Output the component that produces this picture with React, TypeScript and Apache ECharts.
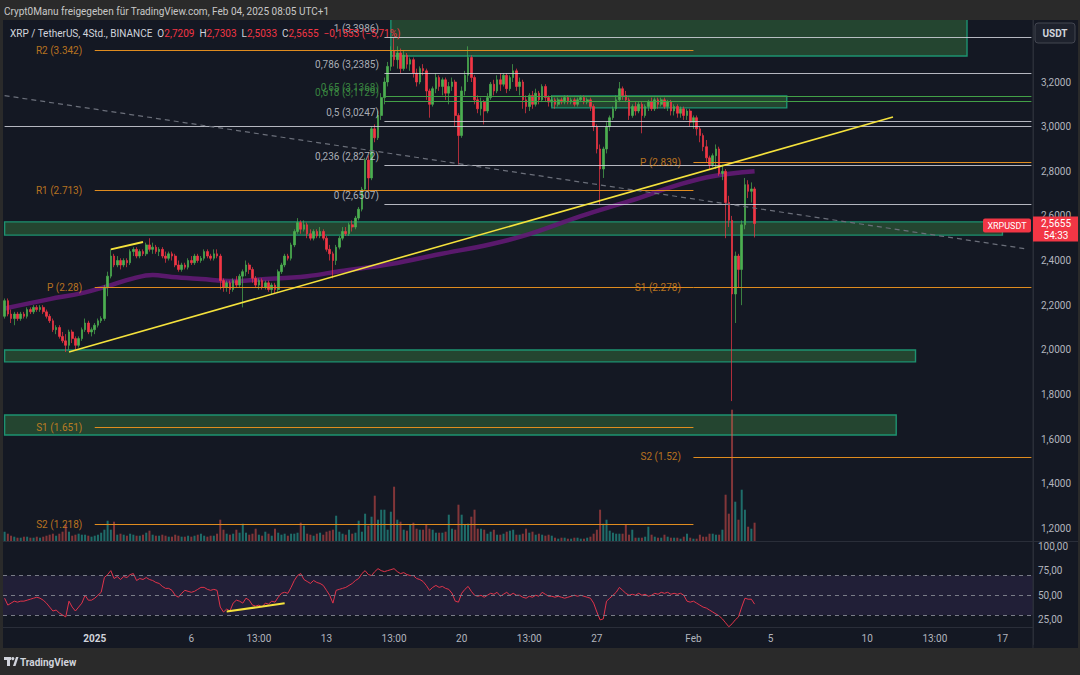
import React, { useEffect, useRef } from 'react';
import * as echarts from 'echarts';

// [open, close, low, high] per 4h candle (XRP/USDT)
const candles: number[][] = [
  [2.15,2.22,2.14,2.23],[2.22,2.16,2.15,2.23],[2.16,2.14,2.12,2.18],[2.14,2.16,2.11,2.17],[2.16,2.14,2.13,2.17],
  [2.14,2.16,2.13,2.17],[2.16,2.15,2.14,2.17],[2.15,2.18,2.14,2.19],[2.18,2.17,2.16,2.19],[2.17,2.19,2.16,2.20],
  [2.19,2.18,2.17,2.20],[2.18,2.19,2.17,2.20],[2.19,2.17,2.16,2.20],[2.17,2.15,2.14,2.18],[2.15,2.13,2.12,2.16],
  [2.13,2.09,2.08,2.14],[2.09,2.10,2.07,2.11],[2.10,2.06,2.05,2.11],[2.06,2.04,2.03,2.08],[2.04,2.02,1.99,2.07],
  [2.02,2.08,2.00,2.09],[2.08,2.05,2.03,2.09],[2.05,2.02,2.00,2.06],[2.02,2.05,2.01,2.06],[2.05,2.09,2.04,2.10],
  [2.09,2.12,2.08,2.14],[2.12,2.08,2.07,2.13],[2.08,2.09,2.06,2.10],[2.09,2.11,2.07,2.12],[2.11,2.13,2.10,2.14],
  [2.13,2.14,2.12,2.15],[2.14,2.28,2.13,2.29],[2.28,2.33,2.24,2.35],[2.33,2.42,2.32,2.45],[2.42,2.38,2.37,2.43],
  [2.38,2.40,2.37,2.42],[2.40,2.38,2.36,2.41],[2.38,2.40,2.37,2.41],[2.40,2.39,2.37,2.41],[2.39,2.44,2.38,2.45],
  [2.44,2.45,2.42,2.46],[2.45,2.42,2.41,2.46],[2.42,2.44,2.41,2.45],[2.44,2.43,2.42,2.45],[2.43,2.47,2.42,2.48],
  [2.47,2.45,2.44,2.50],[2.45,2.46,2.43,2.48],[2.46,2.44,2.43,2.47],[2.44,2.45,2.42,2.46],[2.45,2.42,2.41,2.46],
  [2.42,2.41,2.39,2.44],[2.41,2.43,2.40,2.44],[2.43,2.42,2.40,2.44],[2.42,2.38,2.37,2.43],[2.38,2.36,2.35,2.40],
  [2.36,2.38,2.35,2.39],[2.38,2.37,2.36,2.39],[2.37,2.40,2.36,2.41],[2.40,2.39,2.38,2.42],[2.39,2.42,2.38,2.43],
  [2.42,2.40,2.39,2.43],[2.40,2.41,2.39,2.42],[2.41,2.44,2.40,2.45],[2.44,2.42,2.41,2.45],[2.42,2.41,2.40,2.43],
  [2.41,2.43,2.40,2.45],[2.43,2.42,2.41,2.45],[2.42,2.31,2.27,2.43],[2.31,2.28,2.26,2.32],[2.28,2.30,2.26,2.31],
  [2.30,2.27,2.25,2.31],[2.27,2.31,2.26,2.32],[2.31,2.29,2.28,2.33],[2.29,2.33,2.28,2.34],[2.33,2.35,2.19,2.36],
  [2.35,2.38,2.33,2.40],[2.38,2.36,2.34,2.39],[2.36,2.32,2.30,2.37],[2.32,2.29,2.28,2.33],[2.29,2.31,2.27,2.32],
  [2.31,2.28,2.27,2.32],[2.28,2.30,2.27,2.31],[2.30,2.27,2.26,2.31],[2.27,2.29,2.25,2.30],[2.29,2.27,2.25,2.30],
  [2.27,2.35,2.26,2.36],[2.35,2.38,2.34,2.39],[2.38,2.42,2.37,2.43],[2.42,2.41,2.40,2.43],[2.41,2.47,2.40,2.48],
  [2.47,2.53,2.46,2.54],[2.53,2.57,2.52,2.59],[2.57,2.54,2.52,2.58],[2.54,2.56,2.53,2.58],[2.56,2.52,2.50,2.57],
  [2.52,2.50,2.49,2.54],[2.50,2.53,2.49,2.54],[2.53,2.51,2.50,2.54],[2.51,2.53,2.50,2.55],[2.53,2.50,2.49,2.54],
  [2.50,2.45,2.44,2.51],[2.45,2.43,2.40,2.47],[2.43,2.40,2.32,2.44],[2.40,2.46,2.38,2.47],[2.46,2.50,2.45,2.51],
  [2.50,2.53,2.49,2.55],[2.53,2.52,2.51,2.55],[2.52,2.56,2.51,2.57],[2.56,2.55,2.53,2.58],[2.55,2.59,2.54,2.60],
  [2.59,2.63,2.58,2.64],[2.63,2.72,2.62,2.73],[2.72,2.85,2.71,2.86],[2.85,2.77,2.71,2.87],[2.77,2.99,2.76,3.00],
  [2.99,2.95,2.93,3.01],[2.95,3.05,2.94,3.07],[3.05,3.13,3.03,3.15],[3.13,3.20,3.10,3.22],[3.20,3.27,3.18,3.29],
  [3.27,3.34,3.25,3.36],[3.34,3.30,3.27,3.40],[3.30,3.33,3.26,3.36],[3.33,3.26,3.24,3.35],[3.26,3.32,3.25,3.34],
  [3.32,3.28,3.26,3.33],[3.28,3.30,3.25,3.31],[3.30,3.24,3.22,3.31],[3.24,3.20,3.18,3.26],[3.20,3.26,3.19,3.27],
  [3.26,3.25,3.23,3.28],[3.25,3.16,3.12,3.26],[3.16,3.10,3.04,3.17],[3.10,3.17,3.09,3.18],[3.17,3.22,3.15,3.24],
  [3.22,3.18,3.16,3.23],[3.18,3.21,3.14,3.22],[3.21,3.15,3.12,3.22],[3.15,3.18,3.10,3.20],[3.18,3.20,3.16,3.22],
  [3.20,3.05,3.00,3.21],[3.05,2.96,2.83,3.06],[2.96,3.16,2.95,3.18],[3.16,3.23,3.14,3.25],[3.23,3.31,3.20,3.36],
  [3.31,3.22,3.20,3.32],[3.22,3.12,3.10,3.23],[3.12,3.08,3.06,3.14],[3.08,3.11,3.05,3.13],[3.11,3.07,3.01,3.12],
  [3.07,3.13,3.06,3.15],[3.13,3.19,3.12,3.20],[3.19,3.16,3.14,3.21],[3.16,3.21,3.15,3.23],[3.21,3.19,3.16,3.24],
  [3.19,3.23,3.18,3.24],[3.23,3.17,3.15,3.24],[3.17,3.22,3.16,3.23],[3.22,3.25,3.20,3.28],[3.25,3.18,3.16,3.26],
  [3.18,3.20,3.14,3.22],[3.20,3.12,3.08,3.21],[3.12,3.09,3.06,3.14],[3.09,3.14,3.07,3.15],[3.14,3.10,3.08,3.16],
  [3.10,3.15,3.09,3.17],[3.15,3.12,3.10,3.16],[3.12,3.18,3.11,3.19],[3.18,3.13,3.11,3.19],[3.13,3.11,3.09,3.14],
  [3.11,3.12,3.09,3.14],[3.12,3.10,3.08,3.13],[3.10,3.12,3.09,3.13],[3.12,3.11,3.10,3.13],[3.11,3.13,3.10,3.14],
  [3.13,3.11,3.10,3.14],[3.11,3.12,3.10,3.13],[3.12,3.10,3.09,3.13],[3.10,3.12,3.09,3.13],[3.12,3.13,3.11,3.14],
  [3.13,3.11,3.10,3.14],[3.11,3.12,3.10,3.13],[3.12,3.09,3.07,3.13],[3.09,3.00,2.98,3.10],[3.00,2.90,2.88,3.01],
  [2.90,2.81,2.65,2.92],[2.81,2.90,2.77,2.91],[2.90,3.00,2.88,3.02],[3.00,3.04,2.98,3.05],[3.04,3.08,3.03,3.09],
  [3.08,3.12,3.07,3.14],[3.12,3.17,3.11,3.20],[3.17,3.14,3.12,3.18],[3.14,3.12,3.11,3.16],[3.12,3.05,3.03,3.13],
  [3.05,3.09,3.04,3.10],[3.09,3.07,3.05,3.11],[3.07,3.10,3.06,3.11],[3.10,3.05,2.97,3.11],[3.05,3.09,3.04,3.10],
  [3.09,3.11,3.07,3.12],[3.11,3.08,3.07,3.13],[3.08,3.12,3.07,3.13],[3.12,3.10,3.08,3.13],[3.10,3.12,3.09,3.13],
  [3.12,3.09,3.08,3.13],[3.09,3.11,3.07,3.12],[3.11,3.07,3.05,3.12],[3.07,3.09,3.05,3.10],[3.09,3.06,3.04,3.10],
  [3.06,3.08,3.04,3.09],[3.08,3.05,3.03,3.09],[3.05,3.07,3.03,3.08],[3.07,3.02,3.00,3.08],[3.02,3.04,2.99,3.05],
  [3.04,2.99,2.96,3.05],[2.99,2.96,2.93,3.00],[2.96,2.91,2.89,2.97],[2.91,2.86,2.84,2.94],[2.86,2.83,2.81,2.87],
  [2.83,2.87,2.82,2.88],[2.87,2.90,2.81,2.92],[2.90,2.79,2.78,2.91],[2.79,2.80,2.76,2.83],[2.80,2.66,2.50,2.81],
  [2.66,2.58,2.55,2.69],[2.58,2.25,1.77,2.60],[2.25,2.42,2.12,2.44],[2.42,2.36,2.28,2.43],[2.36,2.56,2.20,2.58],
  [2.56,2.74,2.54,2.77],[2.74,2.71,2.68,2.76],[2.71,2.7208,2.66,2.75],[2.7209,2.5655,2.5033,2.7303]
];

// volume per candle (millions)
const volumes: number[] = [
  100,80,60,50,40,40,50,50,40,40, 50,40,50,60,70,80,60,80,100,170,
  100,60,70,80,70,70,60,50,60,70, 90,120,210,120,200,70,80,70,60,80,
  70,60,60,70,90,110,70,60,60,70, 60,50,50,70,60,50,50,60,50,60,
  70,80,60,50,60,60,80,220,120,80, 70,80,120,90,180,90,70,80,130,70,
  60,100,80,60,130,90,70,80,60,80, 80,90,190,160,80,70,60,80,90,70,
  100,110,120,260,100,80,70,120,80,90, 210,100,280,160,250,460,220,320,320,120,
  300,550,220,200,120,110,170,190,130,120, 120,170,130,120,90,90,90,100,270,130,
  120,370,270,170,180,250,320,130,130,120, 80,100,120,70,70,80,100,110,120,70,
  70,80,130,90,100,70,80,70,60,70, 60,40,30,40,40,30,30,40,40,30,
  30,40,50,80,120,320,180,220,110,90, 80,80,80,170,70,120,40,40,40,50,
  150,70,50,40,40,70,50,40,40,40, 30,50,80,40,30,30,70,50,50,80,
  80,70,70,120,470,280,1320,400,220,520, 320,150,130,190
];

// RSI(14) per candle
const rsiValues: number[] = [
  47,40,42,44,43,44,44,45,46,47, 48,47,45,42,38,34,35,32,30,28,
  44,38,34,38,42,50,45,45,47,50, 53,68,71,75,67,69,66,69,68,71,
  72,65,67,66,68,66,65,63,62,59, 57,57,55,50,48,52,55,54,53,54,
  56,58,58,56,55,56,55,38,33,36, 34,42,45,44,42,47,45,40,39,40,
  38,42,41,44,43,48,52,53,52,58, 65,70,72,66,64,62,65,63,62,60,
  55,50,42,55,56,57,58,60,62,65, 67,72,75,71,70,74,77,75,74,75,
  76,77,74,72,73,71,70,70,67,66, 64,60,55,58,60,58,59,57,56,52,
  44,43,52,56,59,54,50,49,50,48, 50,52,51,53,49,51,53,50,52,50,
  50,48,47,49,48,50,49,53,51,49, 49,48,49,48,47,48,49,50,49,50,
  49,48,47,42,33,25,26,44,47,50, 53,58,55,52,50,51,50,52,50,51,
  49,50,52,51,53,52,53,51,52,51, 52,50,44,43,44,42,40,38,37,35,
  33,31,29,26,22,18,21,25,28,38, 47,46,46,41
];

// moving average read at a few candles
const maIndex = [0, 14, 24, 32, 40, 46, 52, 61, 71, 79, 94, 104, 120, 135, 151, 163, 179, 194, 210, 220, 233];
const maValues = [2.185, 2.227, 2.254, 2.285, 2.32, 2.335, 2.326, 2.317, 2.308, 2.315, 2.33, 2.352, 2.384, 2.428, 2.473, 2.518, 2.599, 2.666, 2.742, 2.778, 2.80];

const slotCount = 320;
const timeTickIndex = [28, 58, 79, 100, 121, 142, 163, 184, 214, 238, 268, 289, 310];
const timeTickText = ['2025', '6', '13:00', '13', '13:00', '20', '13:00', '27', 'Feb', '5', '10', '13:00', '17'];

const fibRatios = ['1', '0,786', '0,65', '0,618', '0,5', '0,236', '0'];
const fibPrices = [3.3986, 3.2385, 3.1368, 3.1129, 3.0247, 2.8272, 2.6507];
const fibGreen = [false, false, true, true, false, false, false];
const fibStart = 118;
const lineEnd = 319;

const pivotLeftNames = ['R2', 'R1', 'P', 'S1', 'S2'];
const pivotLeftValues = [3.342, 2.713, 2.28, 1.651, 1.218];
const pivotRightNames = ['P', 'S1', 'S2'];
const pivotRightValues = [2.839, 2.278, 1.52];
const pivotLeftStart = 28;
const pivotSplit = 214;

const zoneLow = [3.3165, 3.084, 2.514, 1.946, 1.618];
const zoneHigh = [3.5, 3.137, 2.573, 1.999, 1.708];
const zoneStart = [120, 170, 0, 0, 0];
const zoneEnd = [299, 243, 310, 283, 277];

const horizontalLevel = 3.0;
const trendLine = [[20, 1.99], [276, 3.043]];
const shortTrend = [[33, 2.45], [43, 2.483]];
const dashedTrend = [[0, 3.139], [318, 2.451]];
const rsiTrend = [[69, 33.4], [87, 41.9]];

const UP = '#4caf50';
const DOWN = '#f23645';
const ORANGE = '#e08c1f';
const FIBC = 'rgba(209,212,220,0.85)';
const AXIS_TXT = '#b2b5be';
const BG = '#141823';
const FRAME = '#2a2a2a';
const FONT = 'Roboto, sans-serif';

const comma = (v: number, d: number) => v.toFixed(d).replace('.', ',');

function seg(a: number[], b: number[], lineStyle: any) {
  return [{ coord: [a[0], a[1]], lineStyle }, { coord: [b[0], b[1]] }];
}

export default function App() {
  const ref = useRef<HTMLDivElement>(null);

  useEffect(() => {
    document.body.style.margin = '0';
    const el = ref.current;
    if (!el) return;
    const chart = echarts.init(el, null, { renderer: 'svg' });

    const cats = Array.from({ length: slotCount }, (_, i) => String(i));
    const maData: (number | null)[] = candles.map(() => null);
    maIndex.forEach((ix, k) => { maData[ix] = maValues[k]; });

    const volData = volumes.map((v, i) => ({
      value: v,
      itemStyle: { color: candles[i][1] >= candles[i][0] ? 'rgba(38,166,154,0.6)' : 'rgba(239,83,80,0.5)' }
    }));

    const zoneStyle = { color: 'rgba(76,175,80,0.3)', borderColor: '#1d9270', borderWidth: 1.4 };
    const zones = zoneLow.map((lo, k) => [
      { coord: [zoneStart[k], zoneHigh[k]], itemStyle: zoneStyle },
      { coord: [zoneEnd[k], lo] }
    ]);

    const priceLines: any[] = [];
    fibPrices.forEach((p, k) => {
      priceLines.push(seg([fibStart, p], [lineEnd, p], { color: fibGreen[k] ? '#43a047' : FIBC, width: 1, type: 'solid' }));
    });
    priceLines.push(seg([0, horizontalLevel], [lineEnd, horizontalLevel], { color: FIBC, width: 1, type: 'solid' }));
    pivotLeftValues.forEach((p) => {
      priceLines.push(seg([pivotLeftStart, p], [pivotSplit, p], { color: ORANGE, width: 1, type: 'solid' }));
    });
    pivotRightValues.forEach((p) => {
      priceLines.push(seg([pivotSplit, p], [lineEnd, p], { color: ORANGE, width: 1, type: 'solid' }));
    });
    priceLines.push(seg(dashedTrend[0], dashedTrend[1], { color: '#6b6f7a', width: 1.2, type: [5, 4] }));
    priceLines.push(seg(trendLine[0], trendLine[1], { color: '#f5e23c', width: 1.6, type: 'solid' }));
    priceLines.push(seg(shortTrend[0], shortTrend[1], { color: '#f5e23c', width: 2, type: 'solid' }));

    const fibLabelData = fibPrices.map((p, k) => ({
      value: [fibStart, p],
      label: { color: fibGreen[k] ? '#43a047' : '#d1d4dc' }
    }));
    const fibLabelText = fibPrices.map((p, k) => `${fibRatios[k]} (${comma(p, 4)})`);

    const pivotLabelData = [
      ...pivotLeftValues.map((p) => ({ value: [pivotLeftStart, p] })),
      ...pivotRightValues.map((p) => ({ value: [pivotSplit, p] }))
    ];
    const pivotLabelText = [
      ...pivotLeftValues.map((p, k) => `${pivotLeftNames[k]} (${p})`),
      ...pivotRightValues.map((p, k) => `${pivotRightNames[k]} (${p})`)
    ];

    const hiddenX = (gridIndex: number) => ({
      type: 'category', gridIndex, data: cats, boundaryGap: true,
      axisLabel: { show: false }, axisTick: { show: false }, axisLine: { show: false }, splitLine: { show: false }
    });

    const option: any = {
      animation: false,
      backgroundColor: BG,
      textStyle: { fontFamily: FONT },
      grid: [
        { left: 3, top: -7.26, width: 1030, height: 580.19, outerBoundsMode: 'none' },
        { left: 3, top: 401, width: 1030, height: 140.7, outerBoundsMode: 'none' },
        { left: 3, top: 521.4, width: 1030, height: 123.1, outerBoundsMode: 'none' },
        { left: 3, top: 560, width: 1030, height: 67.5, outerBoundsMode: 'none' }
      ],
      xAxis: [
        hiddenX(0), hiddenX(1), hiddenX(2),
        {
          type: 'category', gridIndex: 3, data: cats, boundaryGap: true,
          axisTick: { show: false },
          axisLine: { show: true, lineStyle: { color: '#2a2e39' } },
          splitLine: { show: false },
          axisLabel: {
            show: true, margin: 6, color: AXIS_TXT, fontSize: 10, fontFamily: FONT,
            interval: (index: number) => timeTickIndex.includes(index),
            formatter: (_v: string, index: number) => {
              const k = timeTickIndex.indexOf(index);
              if (k < 0) return '';
              return timeTickText[k] === '2025' ? '{b|2025}' : timeTickText[k];
            },
            rich: { b: { fontWeight: 'bold', color: '#d1d4dc', fontSize: 10, fontFamily: FONT } }
          }
        }
      ],
      yAxis: [
        {
          type: 'value', gridIndex: 0, position: 'right', min: 1.0, max: 3.6, interval: 0.2,
          axisLine: { show: true, lineStyle: { color: '#2a2e39' } }, axisTick: { show: false }, splitLine: { show: false },
          axisLabel: {
            color: AXIS_TXT, fontSize: 10, margin: 8, fontFamily: FONT,
            formatter: (v: number) => (v > 1.19 && v < 3.21 ? comma(v, 4) : '')
          }
        },
        { type: 'value', gridIndex: 1, min: 0, max: 1407, show: false, splitLine: { show: false } },
        {
          type: 'value', gridIndex: 2, position: 'right', min: 0, max: 125, interval: 25,
          axisLine: { show: true, lineStyle: { color: '#2a2e39' } }, axisTick: { show: false }, splitLine: { show: false },
          axisLabel: {
            color: AXIS_TXT, fontSize: 10, margin: 5, fontFamily: FONT,
            formatter: (v: number) => (v > 1 && v < 101 ? comma(v, 2) : '')
          }
        },
        { type: 'value', gridIndex: 3, show: false }
      ],
      series: [
        {
          type: 'line', xAxisIndex: 0, yAxisIndex: 0, data: maData, connectNulls: true, smooth: 0.4,
          showSymbol: false, symbol: 'none', silent: true, z: 1.5,
          lineStyle: { color: 'rgba(98,26,116,0.9)', width: 4.5 }
        },
        {
          type: 'candlestick', xAxisIndex: 0, yAxisIndex: 0, data: candles, barWidth: 2.1, silent: true, z: 2,
          itemStyle: { color: UP, color0: DOWN, borderColor: UP, borderColor0: DOWN, borderWidth: 0.7 },
          markArea: { silent: true, data: zones },
          markLine: { silent: true, symbol: ['none', 'none'], label: { show: false }, data: priceLines }
        },
        {
          type: 'scatter', xAxisIndex: 0, yAxisIndex: 0, data: fibLabelData, symbolSize: 1, silent: true, z: 6,
          itemStyle: { color: 'rgba(0,0,0,0)' },
          label: {
            show: true, position: 'left', distance: 5, offset: [0, -9], fontSize: 10, fontFamily: FONT,
            formatter: (p: any) => fibLabelText[p.dataIndex]
          }
        },
        {
          type: 'scatter', xAxisIndex: 0, yAxisIndex: 0, data: pivotLabelData, symbolSize: 1, silent: true, z: 6,
          itemStyle: { color: 'rgba(0,0,0,0)' },
          label: {
            show: true, position: 'left', distance: 12, color: ORANGE, fontSize: 10, fontFamily: FONT,
            formatter: (p: any) => pivotLabelText[p.dataIndex]
          }
        },
        {
          type: 'bar', xAxisIndex: 1, yAxisIndex: 1, data: volData, barWidth: 2, silent: true, z: 1.8
        },
        {
          type: 'line', xAxisIndex: 2, yAxisIndex: 2, data: rsiValues, showSymbol: false, symbol: 'none', silent: true,
          lineStyle: { color: '#e0334a', width: 1 },
          markArea: {
            silent: true,
            data: [[{ yAxis: 70, itemStyle: { color: 'rgba(126,87,194,0.13)' } }, { yAxis: 30 }]]
          },
          markLine: {
            silent: true, symbol: ['none', 'none'], label: { show: false },
            data: [
              { yAxis: 70, lineStyle: { color: '#787b86', type: [4, 4], width: 1 } },
              { yAxis: 50, lineStyle: { color: '#787b86', type: [4, 4], width: 1 } },
              { yAxis: 30, lineStyle: { color: '#787b86', type: [4, 4], width: 1 } },
              seg(rsiTrend[0], rsiTrend[1], { color: '#f5e23c', width: 2, type: 'solid' })
            ]
          }
        }
      ]
    };

    chart.setOption(option);

    const last = candles[candles.length - 1];
    const prevClose = candles[candles.length - 2][1];
    const change = last[1] - prevClose;
    const pct = (change / prevClose) * 100;
    const minus = (v: number, d: number) => (v < 0 ? '\u2212' : '+') + comma(Math.abs(v), d);
    const py = chart.convertToPixel({ yAxisIndex: 0 }, last[1]) as unknown as number;

    const legendText =
      '{g|XRP / TetherUS, 4Std., BINANCE  O}{r|' + comma(last[0], 4) + '}{g|  H}{r|' + comma(last[3], 4) +
      '}{g|  L}{r|' + comma(last[2], 4) + '}{g|  C}{r|' + comma(last[1], 4) + '}{r|  ' + minus(change, 4) +
      ' (' + minus(pct, 2) + '%)}';

    const graphic: any[] = [
      { type: 'rect', z: 100, shape: { x: 0, y: 0, width: 1080, height: 20 }, style: { fill: FRAME } },
      { type: 'rect', z: 100, shape: { x: 0, y: 648, width: 1080, height: 27 }, style: { fill: FRAME } },
      { type: 'rect', z: 100, shape: { x: 0, y: 20, width: 3, height: 628 }, style: { fill: FRAME } },
      { type: 'rect', z: 100, shape: { x: 1078, y: 20, width: 2, height: 628 }, style: { fill: FRAME } },
      { type: 'line', z: 50, shape: { x1: 3, y1: 541.5, x2: 1078, y2: 541.5 }, style: { stroke: '#2a2e39', lineWidth: 1 } },
      { type: 'line', z: 50, shape: { x1: 1033, y1: 20, x2: 1033, y2: 648 }, style: { stroke: '#2a2e39', lineWidth: 1 } },
      {
        type: 'text', z: 101, x: 4, y: 11,
        style: { text: 'Crypt0Manu freigegeben für TradingView.com, Feb 04, 2025 08:05 UTC+1', fill: '#c8c8c8', fontSize: 10, fontFamily: FONT, verticalAlign: 'middle' }
      },
      {
        type: 'text', z: 101, x: 10, y: 33,
        style: {
          text: legendText, verticalAlign: 'middle', fontFamily: FONT, fontSize: 10,
          rich: { g: { fill: '#d1d4dc', fontSize: 10, fontFamily: FONT }, r: { fill: DOWN, fontSize: 10, fontFamily: FONT } }
        }
      },
      { type: 'rect', z: 101, shape: { x: 1035, y: 23, width: 40, height: 20, r: 3 }, style: { fill: '#1e222d', stroke: '#434651', lineWidth: 1 } },
      { type: 'text', z: 102, x: 1055, y: 33, style: { text: 'USDT', fill: '#d1d4dc', fontSize: 10, fontWeight: 'bold', fontFamily: FONT, align: 'center', verticalAlign: 'middle' } },
      // last price labels
      { type: 'rect', z: 101, shape: { x: 1033, y: py - 7, width: 45, height: 25 }, style: { fill: DOWN } },
      { type: 'text', z: 102, x: 1056, y: py, style: { text: comma(last[1], 4), fill: '#ffffff', fontSize: 10, fontFamily: FONT, align: 'center', verticalAlign: 'middle' } },
      { type: 'text', z: 102, x: 1056, y: py + 12, style: { text: '54:33', fill: '#ffffff', fontSize: 10, fontFamily: FONT, align: 'center', verticalAlign: 'middle' } },
      { type: 'rect', z: 101, shape: { x: 983, y: py - 5, width: 48, height: 14, r: 2 }, style: { fill: DOWN } },
      { type: 'text', z: 102, x: 1007, y: py + 2, style: { text: 'XRPUSDT', fill: '#ffffff', fontSize: 9, fontFamily: FONT, align: 'center', verticalAlign: 'middle' } },
      // footer logo + text
      { type: 'rect', z: 101, shape: { x: 4, y: 657, width: 7, height: 3 }, style: { fill: '#d1d4dc' } },
      { type: 'rect', z: 101, shape: { x: 7, y: 657, width: 3, height: 9 }, style: { fill: '#d1d4dc' } },
      { type: 'circle', z: 101, shape: { cx: 12.8, cy: 658.6, r: 1.6 }, style: { fill: '#d1d4dc' } },
      { type: 'polygon', z: 101, shape: { points: [[13, 666], [16, 657], [18.5, 657], [15.5, 666]] }, style: { fill: '#d1d4dc' } },
      { type: 'text', z: 101, x: 20, y: 662, style: { text: 'TradingView', fill: '#d1d4dc', fontSize: 10, fontWeight: 'bold', fontFamily: FONT, verticalAlign: 'middle' } }
    ];

    chart.setOption({ graphic });

    return () => { chart.dispose(); };
  }, []);

  return <div ref={ref} style={{ width: 1080, height: 675 }} />;
}
